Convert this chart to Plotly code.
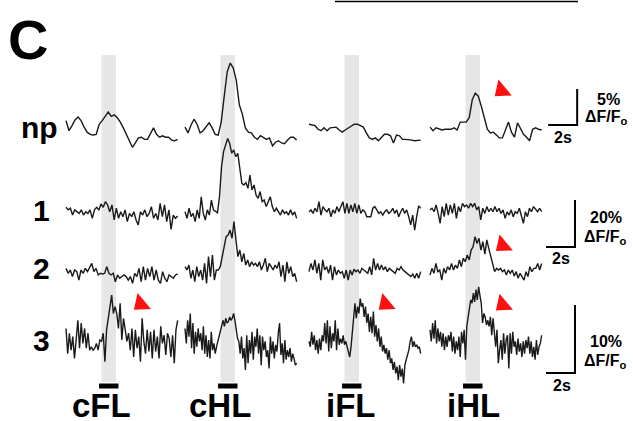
import numpy as np
import plotly.graph_objects as go

W, H = 633, 421

# ---------------- data (ΔF/F in %, sampled uniformly over each trace) ----------------
columns = ["cFL", "cHL", "iFL", "iHL"]
rows = ["np", "1", "2", "3"]

np_cFL = [1.3, -0.1, 0.6, 1.4, 1.8, 1.3, 0.4, -0.3, -0.6, -0.7, -0.6, 0.8, 1.3, 1.9, 2.5, 1.9, 2.1, 1.7, 1.1, 0.3,
          -0.6, -1.7, -2.4, -1.8, -1.1, -1.0, -1.3, -1.3, -0.4, 0.3, -0.6, -1.0, -0.8, -1.0, -1.0, -1.4, -1.5, -1.3]
np_cHL = [0.4, -0.4, 0.7, 1.5, 0.8, -0.4, -0.1, 0.4, 1.0, 0.3, -0.6, -0.7, 1.1, 4.7, 8.1, 9.3, 8.6, 6.9, 3.5, 2.2,
          0.3, -0.3, -0.4, -1.0, -1.3, -0.8, -1.1, -1.3, -1.1, -2.2, -1.7, -1.5, -1.8, -1.9, -1.4, -1.0, -1.0, -1.4]
np_iFL = [0.8, 0.7, 0.6, 0.1, -0.1, 0.3, -0.1, 0.3, 0.4, 0.4, 0.0, -0.3, 0.0, 0.3, 0.6, 0.8, 0.8, 0.6, 0.4, -0.4,
          -1.1, -1.3, -1.1, -1.5, -1.0, -0.6, -0.6, -0.8, -1.8, -0.7, -0.8, -1.3, -1.3, -1.3, -1.4, -1.5, -1.5, -1.4]
np_iHL = [0.4, -0.1, 0.3, 0.1, 0.0, 0.1, 0.1, 0.1, 0.3, 0.0, 1.1, 1.1, 1.1, 1.7, 4.2, 5.1, 4.7, 3.3, 1.5, 0.1,
          -0.4, -0.3, -0.7, -1.1, -1.1, 0.0, 1.1, -0.3, -1.0, 1.0, 0.3, -0.6, -1.0, -1.5, 0.1, 0.3, 0.1, 0.0]

r1_cFL = [2.0, 0.9, 1.6, -1.3, 0.9, 0.1, -0.6, 0.9, -1.3, 0.1, -0.6, 0.9, -2.7, 0.9, 2.0, 0.9, 3.4, 2.0, 4.4, 3.0,
          0.1, 3.0, -3.4, 1.6, -2.7, 0.1, -2.0, 0.9, -4.1, -0.6, -2.0, 0.1, -3.4, -5.5, 0.1, -1.3, 0.9, -2.0, -0.6, 2.3,
          -2.7, -0.6, -3.4, 3.7, -2.0, 3.0, -4.1, 0.9, -7.4, -1.3, -2.7, -1.7]
r1_cHL = [0.1, -2.7, 1.6, -2.0, -0.6, -4.1, 0.9, -2.7, 6.5, -0.6, -3.4, 0.9, -1.3, 5.1, 0.9, 0.1, -0.3, 6.5, 19.3, 25.7,
          28.5, 31.3, 29.2, 25.0, 26.4, 23.5, 25.0, 19.3, 12.2, 11.5, 12.5, 10.1, 15.7, 9.4, 11.5, 7.2, 5.8, 8.7, 4.4, 5.1,
          2.3, 4.4, 6.5, 2.3, 0.1, 1.6, 0.1, -1.3, 0.9, -0.6, 0.1, -1.3, 0.9, -1.3, 0.1, -2.7]
r1_iFL = [0.1, 0.9, -0.6, 1.6, 0.1, 4.4, -1.3, 2.3, 0.9, 0.1, 1.6, -2.0, 0.9, -0.6, 2.3, 0.1, 2.3, 4.4, -0.6, 3.7,
          -0.6, 3.0, 0.1, 3.7, -0.6, 3.0, -0.6, 0.9, 0.1, -2.0, -2.0, -2.0, 1.6, 2.3, 0.9, -0.6, 0.1, -1.3, 0.1, 0.9,
          -0.6, 0.1, 1.6, -0.6, 0.9, -2.0, 0.1, 1.6, -0.6, 0.9, -2.0, -5.5, -1.3, -7.7, -2.0, 2.6, 1.6]
r1_iHL = [0.9, 1.6, 0.1, 3.0, -0.6, -4.8, 2.3, -2.0, 3.7, -1.3, 3.0, -0.6, 3.7, -2.7, 2.3, 0.1, 3.7, 2.3, 3.0, 1.6,
          3.7, 2.3, 3.7, 0.9, 2.3, -3.4, 1.6, -0.6, 2.3, 0.1, 1.6, 0.1, 2.3, 0.1, 1.6, -0.6, 0.9, -2.7, 0.1, -1.3,
          0.9, -2.0, 0.1, -0.6, 1.6, -1.3, -4.8, 0.1, -2.0, 1.6, 0.1, 2.3, 0.9, 0.1, 1.6, 0.1]

r2_cFL = [2.4, 0.3, 1.7, -1.1, 1.7, 1.0, -2.6, 1.7, 0.3, 2.4, 1.0, 3.1, 4.5, 1.0, 2.4, -0.4, 0.3, 0.0, 0.3, 3.1,
          0.3, -0.4, 0.3, -3.3, -0.4, -1.8, -1.1, -0.4, -1.1, -2.6, -1.1, -4.0, 0.3, -1.1, 2.4, -3.3, 3.1, -2.6, 2.4, -1.1,
          3.1, -2.6, 1.7, -2.6, -4.0, 1.0, -1.8, -3.3, -0.4, -1.1, -1.8, -0.4, 0.0]
r2_cHL = [3.1, 1.7, 3.8, -1.8, 1.7, -3.3, 3.1, -1.1, 1.7, -2.6, 4.5, -4.0, 7.4, -1.1, 8.1, -2.6, 1.7, 1.7, 3.1, 7.4,
          12.3, 15.9, 16.6, 18.7, 15.2, 22.3, 14.5, 7.4, 10.2, 5.2, 8.8, 3.8, 6.0, 3.1, 5.2, 3.8, 4.5, 3.1, 5.2, 1.7,
          3.8, 6.7, 1.0, 4.5, 3.1, 1.7, 3.8, 2.4, 5.2, -1.1, 3.8, -3.3, 5.2, 0.3, 3.1, -1.1, 0.3, -3.3]
r2_iFL = [1.0, 4.5, 1.7, 6.0, 0.3, 4.5, -2.6, 6.0, 1.7, 3.1, 0.3, 3.8, -2.6, 3.1, -0.4, 1.7, 0.3, 1.0, -1.8, 1.7,
          -2.6, 1.7, -0.4, 2.0, 1.0, 1.7, 0.3, 2.4, 1.7, 1.0, 0.3, 3.1, -0.4, 6.7, 1.7, 4.5, 1.7, 3.8, 1.7, 3.1,
          1.0, 2.4, 1.7, 1.0, 0.3, 2.4, 1.7, 3.1, 1.7, 1.0, 0.3, -0.4, -1.1, 0.0, -1.8, 0.3, -1.8, 1.0]
r2_iHL = [-0.4, 2.4, 0.3, 4.5, 1.0, 1.7, -2.6, 2.4, 0.3, 3.1, 1.7, 4.5, 1.7, 3.8, 2.4, 6.0, 3.1, 6.7, 5.2, 8.1,
          6.0, 10.2, 11.6, 15.9, 13.0, 15.2, 10.2, 13.8, 8.5, 14.5, 10.9, 7.4, 4.5, 1.0, 2.4, 1.7, 2.4, 1.0, 1.7, -0.4,
          1.7, 0.3, 1.7, -0.9, 1.0, -1.8, 0.3, -1.1, -2.6, 1.0, -1.1, 3.1, 1.0, 2.4, 2.4, 4.5, 1.7, 4.5]

r3_cFL = [1.7, -2.0, 1.0, -1.5, 0.5, -2.7, 0.0, 2.9, -1.2, 2.5, -0.5, 1.7, -1.2, 1.0, -1.5, -1.0, -1.5, -1.2, -0.5, -1.5,
          0.0, -0.2, 1.0, -3.2, 1.5, 3.2, 4.4, 6.6, 3.9, 4.9, 3.9, 1.7, 5.4, 0.0, 3.2, 1.5, -0.2, 1.0, -1.5, 1.7,
          -2.5, 1.5, -1.2, 0.5, -3.2, 3.2, -0.2, -2.0, 1.5, -1.7, 1.2, -2.7, 1.5, -1.7, 0.5, -2.7, 2.0, -0.5, 0.7, -2.2,
          1.0, 0.2, -2.5, 0.7, -3.4, 1.5, 2.9]
r3_cHL = [1.7, -0.5, 2.9, 0.5, 3.9, -1.2, 2.5, -2.0, 1.2, -1.0, 1.7, -0.2, 1.0, -1.5, 2.0, -2.0, 0.7, -2.5, 0.0, -2.7,
          1.2, -1.5, -0.5, -2.0, -1.0, -0.2, 0.5, 1.5, 2.2, 2.9, 2.0, 3.2, 2.5, 2.7, 3.4, 2.9, 3.2, 3.9, 2.9, 1.7,
          0.2, -0.2, -2.0, 0.5, -2.7, -1.2, -4.4, 0.7, -3.4, 0.0, -2.0, 1.2, -2.9, 0.5, -1.0, 1.7, -2.0, 0.7, -3.7, 0.5,
          -1.5, -0.2, -2.5, -1.5, -4.2, 0.5, -2.0, -0.2, -2.7, -0.7, -1.7, 1.0, 2.5, -2.2, -0.5, -3.4, 0.0, -2.9, -1.5, -2.5,
          -1.2, -3.2, -2.0, -2.7, -3.7, -3.4]
r3_iFL = [-0.2, -1.0, 1.2, -0.7, 0.7, -1.5, 0.0, -2.0, 0.2, -1.5, 0.7, -0.2, 2.5, -0.5, 2.9, -1.7, 2.0, -1.2, 1.0, -0.2,
          2.9, -1.5, 1.7, -0.7, 0.2, -0.5, 0.7, -0.7, -0.2, -1.0, -1.7, -2.5, -1.0, 1.2, 3.7, 5.4, 3.2, 4.9, 3.9, 6.1,
          4.9, 5.4, 3.4, 4.9, 2.5, 3.9, 1.2, 3.4, 1.0, 4.2, 0.5, 2.2, -0.2, 1.7, -1.0, 0.5, -1.7, -0.7, -2.0, -1.2,
          -2.9, -1.5, -3.4, -2.7, -4.4, -3.2, -4.9, -3.9, -5.9, -3.7, -5.4, -4.2, -6.4, -3.7, -2.9, -2.2, -1.5, -0.2, 0.5, -1.0,
          -0.2, -1.0, -0.7, -1.2, -1.0, -2.0]
r3_iHL = [1.5, -0.2, 2.5, 0.2, 2.9, -0.5, 1.7, -0.2, 1.2, -1.0, 1.0, -1.5, 0.5, -1.0, 0.7, -0.2, 1.2, -1.7, 0.5, -2.0,
          -0.2, -1.5, 0.5, -2.5, 1.2, -0.5, 1.5, -2.9, 2.0, 3.2, 4.7, 5.9, 5.4, 6.9, 5.6, 7.4, 5.9, 7.8, 6.6, 5.4,
          2.5, 3.9, 3.4, 2.2, 2.9, 2.0, 3.4, 0.7, 3.2, 0.5, -1.0, 1.5, -3.4, -1.5, 0.0, -2.9, 1.0, -2.0, 0.0, 0.7,
          -4.2, 1.0, -2.0, 1.2, -1.0, -0.2, -2.2, 0.2, -1.7, -0.5, -2.5, -0.2, -2.0, 0.0, -1.2, 0.5, -2.0, -0.2, -2.5, -1.0,
          -2.9, 0.0, -2.2, -1.0, -0.5, 0.7]

trace_table = [
    [np_cFL, np_cHL, np_iFL, np_iHL],
    [r1_cFL, r1_cHL, r1_iFL, r1_iHL],
    [r2_cFL, r2_cHL, r2_iFL, r2_iHL],
    [r3_cFL, r3_cHL, r3_iFL, r3_iHL],
]

trace_duration = 7.7      # s
stim_on = 2.45            # s
stim_dur = 1.0            # s

# red arrowheads: (row, column, time s, ΔF/F %)
arrow_row = [0, 2, 3, 3, 3]
arrow_col = [3, 3, 0, 2, 3]
arrow_t = [4.94, 5.02, 5.16, 5.28, 5.02]
arrow_v = [5.5, 12.2, 5.3, 5.3, 5.2]

# scale bars
scale_time = 2.0                     # s
scale_pct = [5, 20, 10]              # np, rows 1-2, row 3
scale_text = ["5%", "20%", "10%"]

# ---------------- layout constants (pixels) ----------------
px_per_s = 14.5
col_x0 = [66, 185, 309, 430]
row_base = [130, 212, 274, 340]
row_k = [7.2, 2.35, 2.35, 6.8]   # px per %

FONT = "Arial, Liberation Sans, Helvetica, sans-serif"
fig = go.Figure()

def xname(c):
    return "x" if c == 0 else f"x{c+1}"

def yname(r):
    return "y" if r == 0 else f"y{r+1}"

layout_axes = {}
for c in range(4):
    key = "xaxis" if c == 0 else f"xaxis{c+1}"
    layout_axes[key] = dict(domain=[0, 1], range=[-col_x0[c] / px_per_s, (W - col_x0[c]) / px_per_s],
                            visible=False, fixedrange=True, anchor="y")
for r in range(4):
    key = "yaxis" if r == 0 else f"yaxis{r+1}"
    layout_axes[key] = dict(domain=[0, 1], range=[-(H - row_base[r]) / row_k[r], row_base[r] / row_k[r]],
                            visible=False, fixedrange=True, anchor="x")
fig.update_layout(**layout_axes)

def py(p):
    return 1 - p / H

def px(p):
    return p / W

shapes = []
# stimulus bands and bars
for c in range(4):
    shapes.append(dict(type="rect", xref=xname(c), yref="paper", x0=stim_on, x1=stim_on + stim_dur,
                       y0=py(382), y1=py(55), fillcolor="#e6e6e6", line=dict(width=0), layer="below"))
    shapes.append(dict(type="rect", xref=xname(c), yref="paper", x0=stim_on - 0.17, x1=stim_on + stim_dur + 0.17,
                       y0=py(388.5), y1=py(383.5), fillcolor="black", line=dict(width=0)))

# traces
for r in range(4):
    for c in range(4):
        v = trace_table[r][c]
        t = np.linspace(0, trace_duration, len(v))
        fig.add_trace(go.Scatter(x=t, y=v, mode="lines", xaxis=xname(c), yaxis=yname(r),
                                 line=dict(color="#1a1a1a", width=1.4), hoverinfo="skip", showlegend=False))

# arrowheads
for rr, cc, tt, vv in zip(arrow_row, arrow_col, arrow_t, arrow_v):
    fig.add_trace(go.Scatter(x=[tt], y=[vv], mode="markers", xaxis=xname(cc), yaxis=yname(rr),
                             marker=dict(symbol="triangle-left", size=18, color="#ff1010", angle=-40,
                                         line=dict(width=0)),
                             hoverinfo="skip", showlegend=False))

# scale bars (drawn on the iHL column time axis)
sb_t0 = [8.15, 8.0, 8.0]
sb_rows = [0, 1, 3]
sb_v0 = [0.7, -14.9, -4.85]
for i in range(3):
    r = sb_rows[i]
    fig.add_trace(go.Scatter(x=[sb_t0[i], sb_t0[i] + scale_time, sb_t0[i] + scale_time],
                             y=[sb_v0[i], sb_v0[i], sb_v0[i] + scale_pct[i]],
                             mode="lines", xaxis="x4", yaxis=yname(r),
                             line=dict(color="black", width=2), hoverinfo="skip", showlegend=False))

annotations = []
def txt(x, y, s, size, xanchor="center", yanchor="middle"):
    annotations.append(dict(x=px(x), y=py(y), xref="paper", yref="paper", text=s, showarrow=False,
                            xanchor=xanchor, yanchor=yanchor,
                            font=dict(family=FONT, size=size, color="black", weight="bold")))

txt(28, 40, "C", 56)
row_label_y = [127, 210, 268, 340]
for r in range(4):
    txt(60 if r == 0 else 52, row_label_y[r], rows[r], 30, xanchor="right")
col_label_x = [101, 219.5, 351, 473.5]
for c in range(4):
    txt(col_label_x[c], 405, columns[c], 33)

# scale bar labels
pct_pos = [(608, 99), (606, 217), (606, 341.5)]
dff_pos = [(606, 117), (605, 237), (605, 361)]
s_pos = [(563, 137), (561, 258), (562, 385)]
for i in range(3):
    txt(*pct_pos[i], scale_text[i], 16)
    txt(*dff_pos[i], "ΔF/F<sub>o</sub>", 16)
    txt(*s_pos[i], "2s", 16)

shapes.append(dict(type="line", xref="paper", yref="paper", x0=px(335), x1=px(578), y0=py(1.5), y1=py(1.5),
                   line=dict(color="black", width=1.5)))

fig.update_layout(width=W, height=H, margin=dict(l=0, r=0, t=0, b=0),
                  paper_bgcolor="white", plot_bgcolor="rgba(0,0,0,0)",
                  shapes=shapes, annotations=annotations, showlegend=False)

fig.write_html("out.html", config={"displayModeBar": False, "staticPlot": True},
               post_script="document.body.style.margin='0';document.body.style.overflow='hidden';")
